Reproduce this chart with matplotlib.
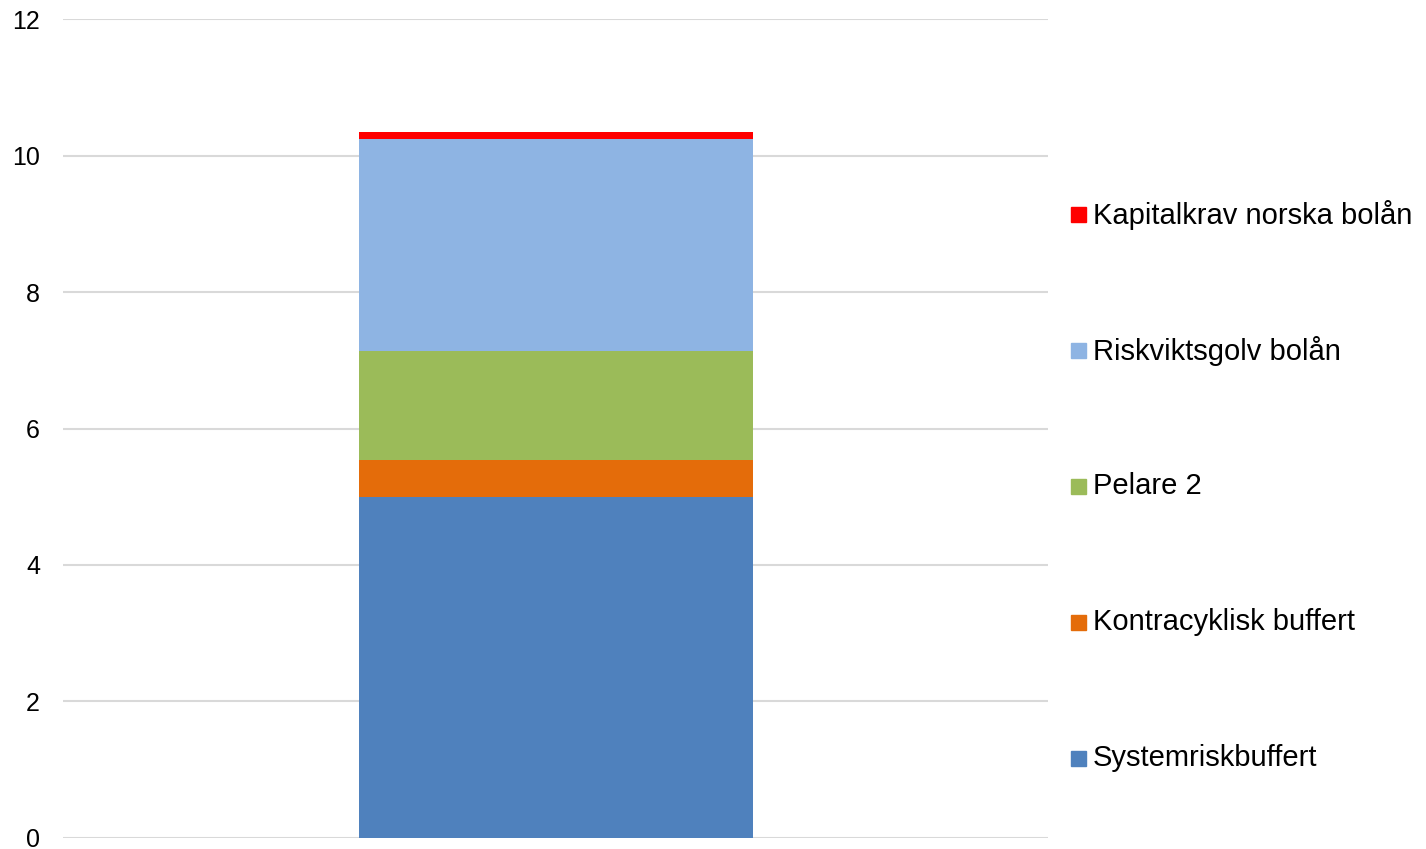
import matplotlib.pyplot as plt
from matplotlib.patches import Rectangle

plt.rcParams['font.family'] = ['Liberation Sans', 'DejaVu Sans']

# Stacked components (bottom to top)
labels = ["Systemriskbuffert", "Kontracyklisk buffert", "Pelare 2",
          "Riskviktsgolv bolån", "Kapitalkrav norska bolån"]
values = [5.0, 0.54, 1.60, 3.10, 0.11]
colors = ["#4f81bd", "#e46c0a", "#9bbb59", "#8eb4e3", "#ff0000"]
yticks = [0, 2, 4, 6, 8, 10, 12]

fig = plt.figure(figsize=(14.26, 8.49), dpi=100)
ax = fig.add_axes([63 / 1426, 1 - 837.7 / 849, (1048 - 63) / 1426, (837.7 - 19.3) / 849])

bottom = 0
for v, c in zip(values, colors):
    ax.bar(0, v, bottom=bottom, width=0.4, color=c, zorder=3)
    bottom += v

ax.set_xlim(-0.5, 0.5)
ax.set_ylim(0, 12)
ax.set_yticks(yticks)
ax.set_xticks([])
ax.tick_params(axis='y', length=0, pad=16.5, labelsize=18)
ax.grid(axis='y', color='#d9d9d9', linewidth=1.5, zorder=0)
for s in ax.spines.values():
    s.set_visible(False)

# legend, top entry first
W, H = 1426, 849
for i, (lab, c) in enumerate(zip(labels[::-1], colors[::-1])):
    yc = 214.5 + i * 136
    fig.patches.append(Rectangle((1071 / W, 1 - (yc + 7.5) / H), 15 / W, 15 / H,
                                 transform=fig.transFigure, color=c))
    fig.text(1093 / W, 1 - yc / H, lab, fontsize=21, va='center', ha='left')

fig.savefig('out.png', dpi=100)
